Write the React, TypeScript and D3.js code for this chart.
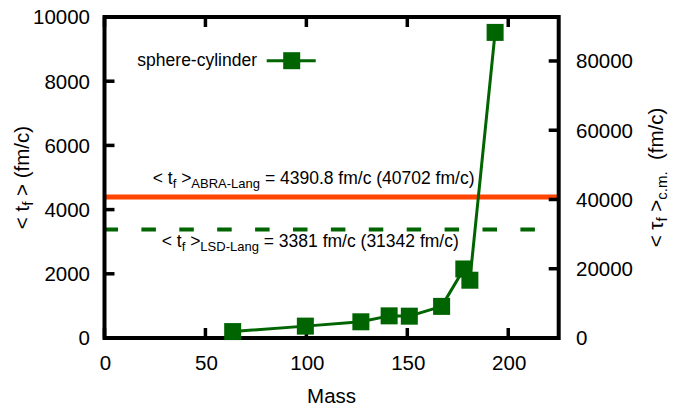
import React from "react";
import * as d3 from "d3";

const masses = [63.5, 99.5, 127, 141, 151, 167, 178, 181, 193.5];
const tfValues = [200, 370, 505, 690, 680, 985, 2150, 1800, 9520];
const xTicks = [0, 50, 100, 150, 200];
const yTicks = [0, 2000, 4000, 6000, 8000, 10000];
const y2Ticks = [0, 20000, 40000, 60000, 80000];
const abraValue = 4390.8;
const abraCm = 40702;
const lsdValue = 3381;
const lsdCm = 31342;
const seriesName = "sphere-cylinder";

const W = 678;
const H = 407;
const L = 104.5;
const R = 558.7;
const T = 17;
const B = 338;
const GREEN = "#006400";
const ORANGE = "#FF4500";
const FONT = "'Liberation Sans', Arial, sans-serif";

export default function App() {
  const x = d3.scaleLinear().domain([0, 225]).range([L, R]);
  const y = d3.scaleLinear().domain([0, 10000]).range([B, T]);
  const y2 = d3
    .scaleLinear()
    .domain([0, 10000 * (abraCm / abraValue)])
    .range([B, T]);

  const pts = masses.map((m, i) => [x(m), y(tfValues[i])] as [number, number]);
  const line = d3.line()(pts) || "";
  const ms = 17;
  const tickLen = 10;
  const tw = 3.5;

  return (
    <svg
      width={W}
      height={H}
      style={{ position: "absolute", left: 0, top: 0, background: "#fff" }}
      fontFamily={FONT}
    >
      <rect x={0} y={0} width={W} height={H} fill="#fff" />
      {/* reference lines */}
      <line x1={L} x2={R} y1={y(abraValue)} y2={y(abraValue)} stroke={ORANGE} strokeWidth={5} />
      <line
        x1={L - 1}
        x2={R}
        y1={y(lsdValue)}
        y2={y(lsdValue)}
        stroke={GREEN}
        strokeWidth={4}
        strokeDasharray="14.5,23.4"
      />
      {/* border */}
      <rect x={L} y={T} width={R - L} height={B - T} fill="none" stroke="#000" strokeWidth={4} />
      {/* ticks */}
      {xTicks.map((t) => (
        <g key={"xt" + t}>
          <line x1={x(t)} x2={x(t)} y1={B} y2={B - tickLen} stroke="#000" strokeWidth={tw} />
          <line x1={x(t)} x2={x(t)} y1={T} y2={T + tickLen} stroke="#000" strokeWidth={tw} />
          <text x={x(t) + 1} y={369.5} fontSize={20.5} textAnchor="middle" fill="#000">
            {t}
          </text>
        </g>
      ))}
      {yTicks.map((t) => (
        <g key={"yt" + t}>
          <line x1={L} x2={L + tickLen} y1={y(t)} y2={y(t)} stroke="#000" strokeWidth={tw} />
          <text x={90} y={y(t)} dy="0.36em" fontSize={20.5} textAnchor="end" fill="#000">
            {t}
          </text>
        </g>
      ))}
      {y2Ticks.map((t) => (
        <g key={"y2t" + t}>
          <line x1={R} x2={R - tickLen} y1={y2(t)} y2={y2(t)} stroke="#000" strokeWidth={tw} />
          <text x={576} y={y2(t)} dy="0.36em" fontSize={20.5} textAnchor="start" fill="#000">
            {t}
          </text>
        </g>
      ))}
      {/* annotations */}
      <text x={152.7} y={183.5} fontSize={17.5} fill="#000" style={{ whiteSpace: "pre" }}>
        <tspan>{"< t"}</tspan>
        <tspan fontSize={13} dy={4}>f</tspan>
        <tspan dy={-4}>{" >"}</tspan>
        <tspan fontSize={13} dy={4}>ABRA-Lang</tspan>
        <tspan dy={-4}>{` = ${abraValue} fm/c (${abraCm} fm/c)`}</tspan>
      </text>
      <text x={161.7} y={246.7} fontSize={17.5} fill="#000" style={{ whiteSpace: "pre" }}>
        <tspan>{"< t"}</tspan>
        <tspan fontSize={13} dy={4}>f</tspan>
        <tspan dy={-4}>{" >"}</tspan>
        <tspan fontSize={13} dy={4}>LSD-Lang</tspan>
        <tspan dy={-4}>{` = ${lsdValue} fm/c (${lsdCm} fm/c)`}</tspan>
      </text>
      {/* axis labels */}
      <text x={(L + R) / 2} y={403} fontSize={20.5} textAnchor="middle" fill="#000">
        Mass
      </text>
      <text
        transform={`translate(28.5, ${(T + B) / 2}) rotate(-90)`}
        fontSize={20.5}
        textAnchor="middle"
        fill="#000"
        style={{ whiteSpace: "pre" }}
      >
        <tspan>{"< t"}</tspan>
        <tspan fontSize={15} dy={4}>f</tspan>
        <tspan dy={-4}>{" > (fm/c)"}</tspan>
      </text>
      <text
        transform={`translate(663, ${(T + B) / 2}) rotate(-90)`}
        fontSize={20.5}
        textAnchor="middle"
        fill="#000"
        style={{ whiteSpace: "pre" }}
      >
        <tspan>{"< τ"}</tspan>
        <tspan fontSize={15} dy={4}>f</tspan>
        <tspan dy={-4}>{" >"}</tspan>
        <tspan fontSize={15} dy={4}>c.m.</tspan>
        <tspan dy={-4}>{"  (fm/c)"}</tspan>
      </text>
      {/* series */}
      <path d={line} fill="none" stroke={GREEN} strokeWidth={3} strokeLinejoin="round" />
      {pts.map(([px, py], i) => (
        <rect key={"m" + i} x={px - ms / 2} y={py - ms / 2} width={ms} height={ms} fill={GREEN} />
      ))}
      {/* legend */}
      <text x={257} y={66} fontSize={17.5} textAnchor="end" fill="#000">
        {seriesName}
      </text>
      <line x1={266.7} x2={315.7} y1={60.7} y2={60.7} stroke={GREEN} strokeWidth={3} />
      <rect x={291.7 - ms / 2} y={60.7 - ms / 2} width={ms} height={ms} fill={GREEN} />
    </svg>
  );
}
